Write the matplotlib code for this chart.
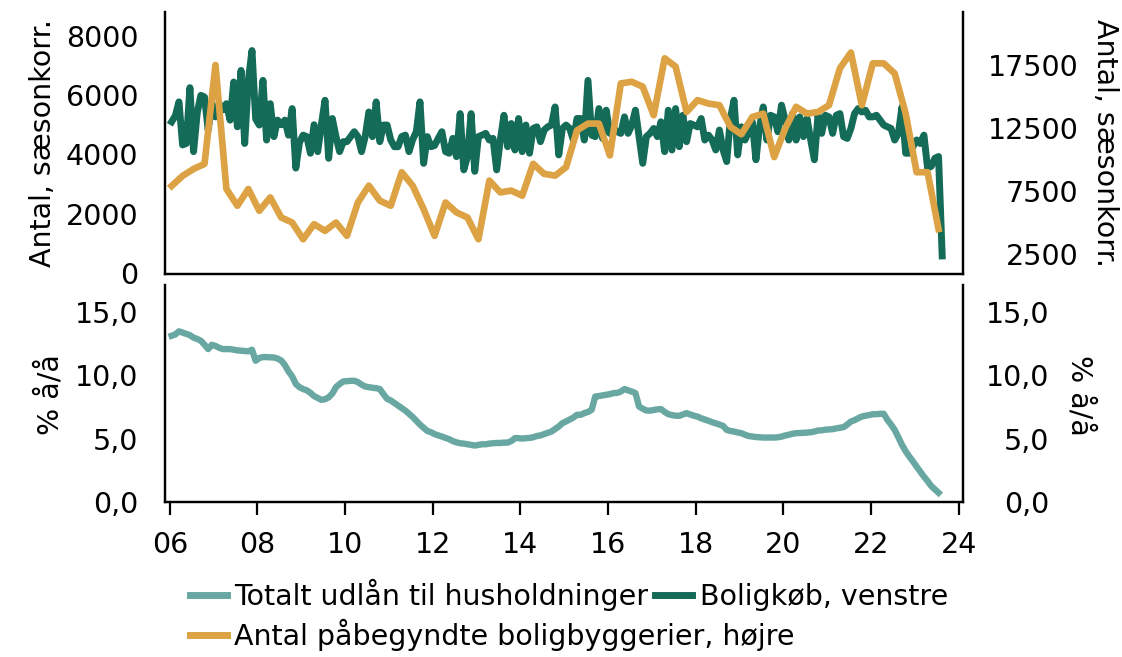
import pandas as pd
import numpy as np
import matplotlib
matplotlib.use('Agg')
import matplotlib.pyplot as plt
from matplotlib.lines import Line2D

# =============================================================================
# Data
# =============================================================================
# Boligkøb, monthly, Jan 2006 -> Aug 2023 (left axis)
boligkob = [
    5100, 5300, 5770, 4320, 4370, 6250, 4095, 5400, 5990, 5935, 4820, 5710,  # 2006
    5265, 5710, 5500, 5710, 5155, 6440, 4930, 6830, 4370, 6495, 7500, 5200,  # 2007
    4990, 6495, 4485, 5710, 4600, 5155, 5000, 5155, 4650, 5545, 3540, 4400,  # 2008
    4650, 4600, 4040, 5000, 4095, 5000, 5825, 3870, 5210, 4600, 4095, 4430,  # 2009
    4430, 4600, 4765, 4600, 4095, 4600, 5430, 4600, 5770, 4430, 4990, 4990,  # 2010
    4485, 4260, 4260, 4600, 4650, 4095, 4500, 4765, 5770, 3700, 4600, 4260,  # 2011
    4300, 4540, 4765, 4095, 4040, 4540, 3925, 5375, 3480, 3930, 5375, 3430,  # 2012
    4600, 4650, 4710, 4485, 4540, 3480, 4485, 5320, 4260, 5040, 4150, 5210,  # 2013
    4095, 4990, 4040, 4875, 4930, 4430, 4820, 4930, 4990, 5600, 3985, 4875,  # 2014
    4990, 4875, 4485, 5210, 5210, 4485, 6495, 4650, 4600, 5545, 4540, 5490,  # 2015
    4710, 4875, 4765, 4710, 5265, 4710, 4990, 5490, 4600, 3700, 4600, 4710,  # 2016
    4875, 4600, 5100, 4095, 5490, 4150, 5545, 4260, 5320, 4430, 5040, 4990,  # 2017
    4930, 5210, 4485, 4650, 4485, 4150, 4820, 4150, 3760, 5210, 5825, 3985,  # 2018
    4930, 4485, 4765, 5100, 3820, 4930, 5600, 4485, 5320, 5265, 4765, 5660,  # 2019
    5155, 4485, 5375, 4485, 5265, 4600, 5210, 4485, 3820, 5320, 4710, 5320,  # 2020
    5265, 4710, 5320, 5375, 4600, 4540, 4875, 5375, 5545, 5430, 5490, 5265,  # 2021
    5265, 5320, 5155, 4990, 4930, 4875, 4485, 4710, 5600, 4040, 4040, 4260,  # 2022
    4485, 4370, 4650, 3540, 3600, 3870, 3930, 580,                           # 2023
]

# Antal påbegyndte boligbyggerier, quarterly, 2006Q1 -> 2023Q3 (right axis)
byggerier = [
    7900, 8700, 9250, 9650,
    17500, 7660, 6330, 7660,
    5930, 6990, 5400, 5000,
    3670, 4870, 4335, 5000,
    3940, 6590, 7925, 6730,
    6330, 8990, 7925, 6060,
    3940, 6590, 5800, 5400,
    3670, 8325, 7390, 7530,
    7130, 9660, 8860, 8720,
    9390, 12310, 12850, 12850,
    10320, 16040, 16170, 15780,
    13510, 18030, 17370, 13770,
    14710, 14440, 14310, 12600,
    12000, 13370, 13640, 10190,
    12450, 14180, 13640, 13770,
    14310, 17240, 18490, 14310,
    17630, 17630, 16830, 13640,
    8990, 8990, 4480,
]

# Totalt udlån til husholdninger, % å/å, monthly, Jan 2006 -> Jul 2023
udlaan = [
    13.1, 13.2, 13.45, 13.35, 13.25, 13.15, 12.95, 12.85, 12.7, 12.4, 12.05, 12.39,
    12.3, 12.15, 12.05, 12.05, 12.05, 12.0, 11.95, 11.92, 11.9, 11.87, 12.0, 11.13,
    11.35, 11.42, 11.42, 11.4, 11.39, 11.3, 11.15, 10.8, 10.29, 9.9, 9.3, 9.05,
    8.9, 8.8, 8.6, 8.35, 8.2, 8.05, 8.1, 8.25, 8.55, 9.05, 9.3, 9.5,
    9.52, 9.55, 9.55, 9.45, 9.25, 9.1, 9.05, 9.0, 8.97, 8.9, 8.5, 8.13,
    8.0, 7.8, 7.6, 7.4, 7.2, 6.95, 6.7, 6.4, 6.1, 5.85, 5.6, 5.5,
    5.35, 5.25, 5.16, 5.05, 4.95, 4.8, 4.7, 4.63, 4.6, 4.55, 4.5, 4.45,
    4.5, 4.55, 4.55, 4.6, 4.63, 4.65, 4.65, 4.68, 4.68, 4.8, 5.03, 5.03,
    5.0, 5.03, 5.05, 5.1, 5.2, 5.25, 5.35, 5.45, 5.55, 5.75, 5.95, 6.21,
    6.35, 6.5, 6.65, 6.87, 6.87, 7.0, 7.1, 7.26, 8.31, 8.35, 8.4, 8.45,
    8.5, 8.58, 8.6, 8.7, 8.9, 8.8, 8.7, 8.58, 7.52, 7.35, 7.21, 7.2,
    7.25, 7.3, 7.32, 7.1, 6.92, 6.85, 6.8, 6.79, 6.9, 7.0, 6.9, 6.8,
    6.73, 6.6, 6.5, 6.4, 6.29, 6.2, 6.1, 6.0, 5.68, 5.6, 5.55, 5.48,
    5.42, 5.3, 5.2, 5.16, 5.12, 5.1, 5.08, 5.08, 5.08, 5.08, 5.1, 5.15,
    5.24, 5.3, 5.38, 5.42, 5.44, 5.45, 5.47, 5.5, 5.55, 5.63, 5.65, 5.7,
    5.72, 5.74, 5.8, 5.85, 5.9, 6.1, 6.34, 6.45, 6.6, 6.73, 6.8, 6.85,
    6.92, 6.92, 6.95, 6.95, 6.47, 6.1, 5.68, 5.1, 4.5, 4.0, 3.58, 3.2,
    2.79, 2.4, 2.0, 1.65, 1.26, 1.0, 0.73,
]

xtick_years = list(range(2006, 2025, 2))
xtick_labels = ['06', '08', '10', '12', '14', '16', '18', '20', '22', '24']
left_ticks = [0, 2000, 4000, 6000, 8000]
right_ticks = [2500, 7500, 12500, 17500]
pct_ticks = [0, 5, 10, 15]
pct_labels = ['0,0', '5,0', '10,0', '15,0']

# dates (decimal years, mid-month)
t_bolig = 2006 + (np.arange(len(boligkob)) + 0.5) / 12
t_bygg = 2006 + (np.arange(len(byggerier)) * 3 + 0.5) / 12
t_udl = 2006 + (np.arange(len(udlaan)) + 0.5) / 12

# =============================================================================
# Plot
# =============================================================================
C_GREEN = '#146b58'
C_ORANGE = '#dca244'
C_TEAL = '#69a8a2'
FS = 20.5

plt.rcParams['font.family'] = ['DejaVu Sans']
plt.rcParams['font.size'] = FS

W, H = 1122, 657
fig = plt.figure(figsize=(W / 100, H / 100), dpi=100)

def box(x0, y0, x1, y1):
    return [x0 / W, 1 - y1 / H, (x1 - x0) / W, (y1 - y0) / H]

ax0 = fig.add_axes(box(165, 12, 963, 274))
ax0r = ax0.twinx()
ax1 = fig.add_axes(box(165, 285, 963, 502))
ax1r = ax1.twinx()

xlim = (2005.89, 2024.1)

# top panel
ax0.plot(t_bolig, boligkob, color=C_GREEN, lw=5.0)
ax0r.plot(t_bygg, byggerier, color=C_ORANGE, lw=4.8)
ax0.set_ylim(-30, 8800)
ax0r.set_ylim(913, 21706)
ax0.set_yticks(left_ticks)
ax0r.set_yticks(right_ticks)
ax0r.set_yticklabels([str(v) for v in right_ticks])
for a in (ax0, ax0r):
    a.set_xlim(*xlim)
    a.set_xticks([])
    a.spines['top'].set_visible(False)
    for s in ('left', 'right', 'bottom'):
        a.spines[s].set_linewidth(1.6)
ax0.tick_params(axis='y', length=0, pad=19)
ax0r.tick_params(axis='y', length=0, pad=83)
for lab in ax0r.get_yticklabels():
    lab.set_horizontalalignment('right')

# bottom panel
ax1.plot(t_udl, udlaan, color=C_TEAL, lw=4.6)
for a in (ax1, ax1r):
    a.set_xlim(*xlim)
    a.set_ylim(0, 17.1)
    a.set_yticks(pct_ticks)
    a.set_yticklabels(pct_labels)
    a.spines['top'].set_visible(False)
    for s in ('left', 'right', 'bottom'):
        a.spines[s].set_linewidth(1.6)
ax1.set_xticks(xtick_years)
ax1.set_xticklabels(xtick_labels)
ax1.tick_params(axis='x', length=9, width=1.6, pad=12)
ax1.tick_params(axis='y', length=0, pad=19)
ax1r.tick_params(axis='y', length=0, pad=62)
for lab in ax1r.get_yticklabels():
    lab.set_horizontalalignment('right')

# axis titles
fig.text(43 / W, 1 - 143 / H, 'Antal, sæsonkorr.', rotation=90, ha='center', va='center')
fig.text(1105 / W, 1 - 143 / H, 'Antal, sæsonkorr.', rotation=270, ha='center', va='center')
fig.text(50 / W, 1 - 395 / H, '% å/å', rotation=90, ha='center', va='center')
fig.text(1080 / W, 1 - 395 / H, '% å/å', rotation=270, ha='center', va='center')

# legend
h_teal = Line2D([], [], color=C_TEAL, lw=5)
h_green = Line2D([], [], color=C_GREEN, lw=5)
h_orange = Line2D([], [], color=C_ORANGE, lw=5)
leg_kw = dict(frameon=False, handlelength=1.3, handletextpad=0.25, borderpad=0,
              borderaxespad=0, fontsize=FS, loc='center left')
leg1 = fig.legend([h_teal, h_green], ['Totalt udlån til husholdninger', 'Boligkøb, venstre'],
                  ncol=2, columnspacing=0.25, bbox_to_anchor=(190 / W, 1 - 595 / H), **leg_kw)
leg2 = fig.legend([h_orange], ['Antal påbegyndte boligbyggerier, højre'],
                  bbox_to_anchor=(190 / W, 1 - 635 / H), **leg_kw)

fig.savefig('out.png', dpi=100)
